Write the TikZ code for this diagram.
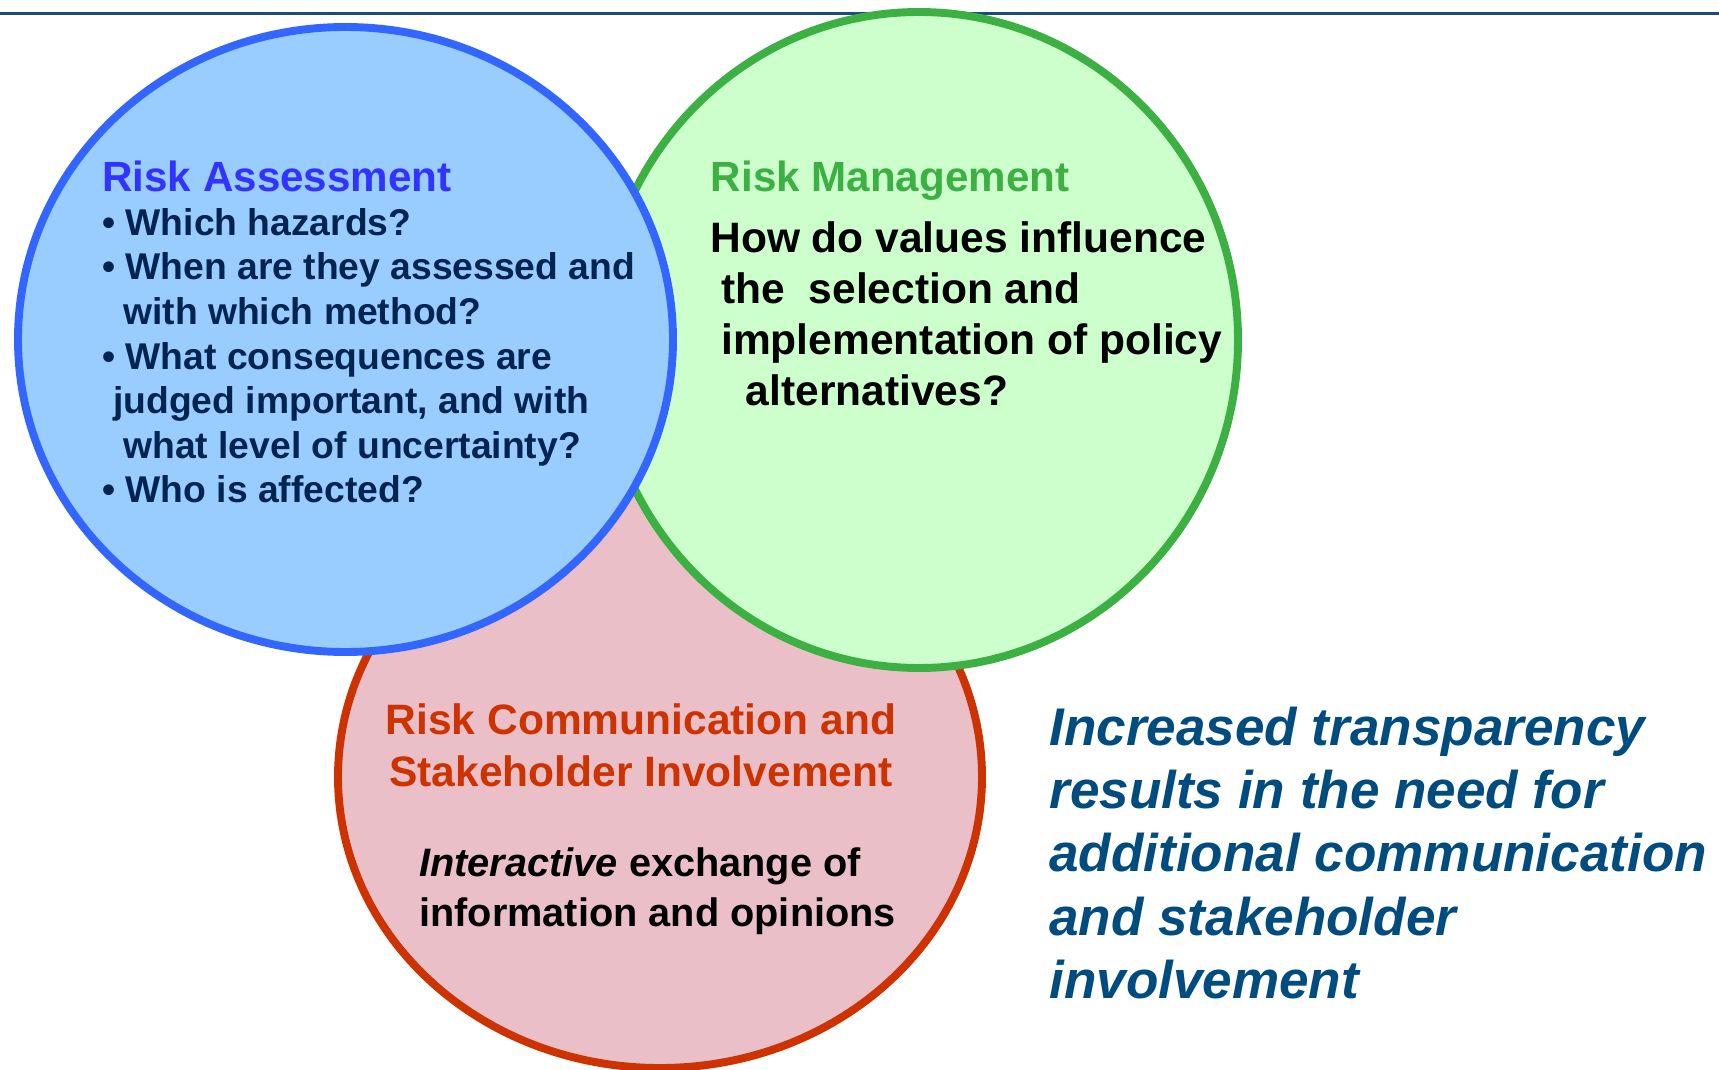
\documentclass[tikz,border=0pt]{standalone}
\usepackage{fontspec}
\setmainfont{Liberation Sans}
\usetikzlibrary{shapes.geometric}
\definecolor{rule}{HTML}{1A4E78}
\definecolor{assessfill}{HTML}{99CCFF}
\definecolor{assessline}{HTML}{3366FF}
\definecolor{assesshead}{HTML}{3333FF}
\definecolor{assesstext}{HTML}{002452}
\definecolor{managefill}{HTML}{CCFFCC}
\definecolor{manageline}{HTML}{3CB043}
\definecolor{commfill}{HTML}{EBBFC8}
\definecolor{commline}{HTML}{CC3300}
\definecolor{note}{HTML}{004C7E}

\begin{document}
\begin{tikzpicture}[
  font=\bfseries,
  sphere/.style={ellipse,line width=4.5pt,inner sep=0pt},
  % multi-line texts sit on the baseline of their last line
  txt/.style={inner sep=0pt,align=left,anchor=base west},
  head/.style={txt,font=\fontsize{24}{29}\bfseries\selectfont}
]
\useasboundingbox (0,0) rectangle (34.38,-21.4);
\draw[rule,line width=1.7pt] (0,-0.28) -- (34.38,-0.28);

% the three fields, back to front
\node[sphere,draw=commline,fill=commfill,
  minimum width=12.88cm,minimum height=11.64cm] (comm) at (13.2,-15.54) {};
\node[sphere,draw=manageline,fill=managefill,
  minimum width=12.76cm,minimum height=13.12cm] (manage) at (18.38,-6.8) {};
\node[sphere,draw=assessline,fill=assessfill,
  minimum width=13.1cm,minimum height=12.5cm] (assess) at (6.91,-6.79) {};

\node[head,text=assesshead] (assesstitle) at (2.04,-3.84) {Risk Assessment};
\node[txt,text=assesstext,font=\fontsize{21.2}{25.4}\bfseries\selectfont]
  (assesslist) at (2.04,-10.06)
  {• Which hazards?\\
   • When are they assessed and\\
   \hspace*{0.42cm}with which method?\\
   • What consequences are\\
   \hspace*{0.22cm}judged important, and with\\
   \hspace*{0.42cm}what level of uncertainty?\\
   • Who is affected?};

\node[head,text=manageline] (managetitle) at (14.21,-3.84) {Risk Management};
\node[txt,font=\fontsize{24.2}{29.1}\bfseries\selectfont]
  (managetext) at (14.2,-8.11)
  {How do values influence\\
   \hspace*{0.22cm}the\ \ selection and\\
   \hspace*{0.22cm}implementation of policy\\
   \hspace*{0.71cm}alternatives?};

\node[txt,align=center,anchor=base,text=commline,
  font=\fontsize{24.2}{29.3}\bfseries\selectfont]
  (commtitle) at (12.82,-15.72) {Risk Communication and\\Stakeholder Involvement};
\node[txt,font=\fontsize{22.6}{27.9}\bfseries\selectfont]
  (commtext) at (8.38,-18.52)
  {\textit{Interactive} exchange of\\information and opinions};

% side remark
\node[txt,text=note,font=\fontsize{30.2}{36}\bfseries\itshape\selectfont]
  (notetext) at (20.98,-19.97)
  {Increased transparency\\results in the need for\\additional communication\\
   and stakeholder\\involvement};
\end{tikzpicture}
\end{document}
